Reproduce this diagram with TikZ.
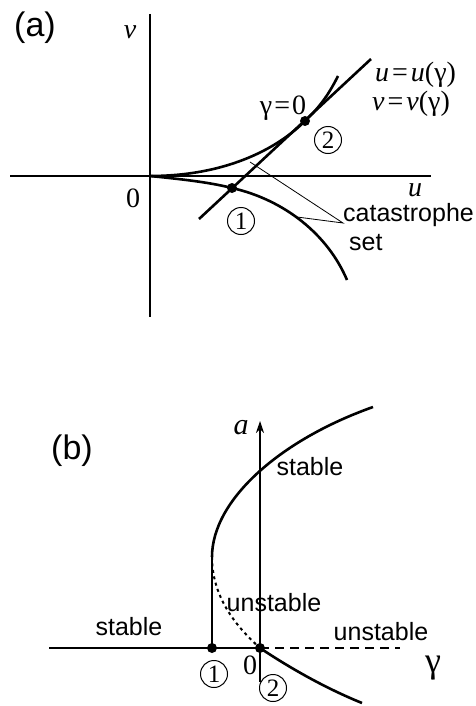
\documentclass[tikz,border=0pt]{standalone}
\usepackage{fontspec}
\setmainfont{Liberation Serif}
\newfontfamily\arialf{Liberation Sans}
\usetikzlibrary{arrows.meta}
\tikzset{
  thinline/.style={line width=1.1pt},
  thickline/.style={line width=2.6pt},
  sans/.style={font=\arialf\fontsize{25}{25}\selectfont, inner sep=0pt},
  panel/.style={font=\arialf\fontsize{34}{34}\selectfont, inner sep=0pt},
  serif/.style={font=\fontsize{28}{28}\selectfont, inner sep=0pt},
  circnum/.style={circle, draw, line width=1pt, minimum size=27pt, inner sep=0pt, font=\fontsize{25}{25}\selectfont},
  dotp/.style={circle, fill, minimum size=10pt, inner sep=0pt},
}
\newcommand{\eqsp}{\kern3pt=\kern3pt}
\begin{document}
\begin{tikzpicture}[x=1pt,y=-1pt]
\useasboundingbox (0,0) rectangle (475,706);
% ---------- (a) ----------
\node[panel] (la) at (35,28) {(a)};
\coordinate (vtop) at (150,14);
\coordinate (vbot) at (150,317);
\coordinate (uleft) at (10,176);
\coordinate (uright) at (431,176);
\draw[thinline] (vtop) -- (vbot);
\draw[thinline] (uleft) -- (uright);
\node[serif] (vlab) at (130,32) {\textit{v}};
\node[serif] (ulab) at (415,190) {\textit{u}};
\node[serif] (zero) at (133,198) {0};
\coordinate (O) at (150,176);
\coordinate (L1) at (199,219);
\coordinate (L2) at (371,59);
\node[dotp] (p1) at (232,188) {};
\node[dotp] (p2) at (305,121) {};
\draw[thickline] (L1) -- (L2);
\draw[thickline] (O) .. controls (230,176) and (280,146) .. (p2.center) .. controls (321,106) and (330,92) .. (338,76);
\draw[thickline] (O) .. controls (190,180) and (212,183) .. (p1.center) .. controls (285,200) and (328,235) .. (347,280);
\node[serif] (g0) at (283,108) {γ\kern2pt=\kern2pt0};
\node[circnum] (c2) at (328,140) {2};
\node[circnum] (c1) at (241,221) {1};
\node[serif, anchor=west] (ueq) at (375,75) {\textit{u}\eqsp\textit{u}(γ)};
\node[serif, anchor=west] (veq) at (372,104) {\textit{v}\eqsp\textit{v}(γ)};
\node[sans, anchor=west] (cat) at (343,215) {catastrophe};
\node[sans, anchor=west] (set) at (349,243) {set};
\coordinate (lead) at (343,223);
\coordinate (t1) at (250,162);
\coordinate (t2) at (297,217);
\draw[line width=0.8pt] (t1) -- (lead) -- (t2);
% ---------- (b) ----------
\node[panel] (lb) at (72,451) {(b)};
\coordinate (gl) at (49,648);
\node[dotp] (q1) at (212,648) {};
\node[dotp] (q2) at (260,648) {};
\coordinate (gr) at (400,648);
\coordinate (abot) at (260,682);
\coordinate (atop) at (260,421);
\draw[thickline] (gl) -- (q2.center);
\draw[line width=1.8pt, dash pattern=on 9pt off 6pt] (q2.center) -- (gr);
\draw[thinline, -{Stealth[length=12pt,width=8pt]}] (abot) -- (atop);
\node[serif] (alab) at (241,428) {\fontsize{30}{30}\selectfont\textit{a}};
\coordinate (turn) at (212,557);
\draw[thinline] (q1.center) -- (turn);
\draw[thickline] (turn) .. controls (212,500) and (280,440) .. (373,407);
\draw[line width=2pt, dash pattern=on 3pt off 3.5pt] (turn) .. controls (212,600) and (240,630) .. (q2.center);
\draw[thickline] (q2.center) .. controls (290,668) and (325,688) .. (362,703);
\node[serif] (zb) at (250,665) {0};
\node[circnum] (d1) at (214,674) {1};
\node[circnum] (d2) at (273,688) {2};
\node[serif] (glab) at (433,668) {\fontsize{36}{36}\selectfont γ};
\node[sans] (s1) at (310,467) {stable};
\node[sans] (u1) at (274,603) {unstable};
\node[sans] (s2) at (129,627) {stable};
\node[sans] (u2) at (381,632) {unstable};
\end{tikzpicture}
\end{document}
